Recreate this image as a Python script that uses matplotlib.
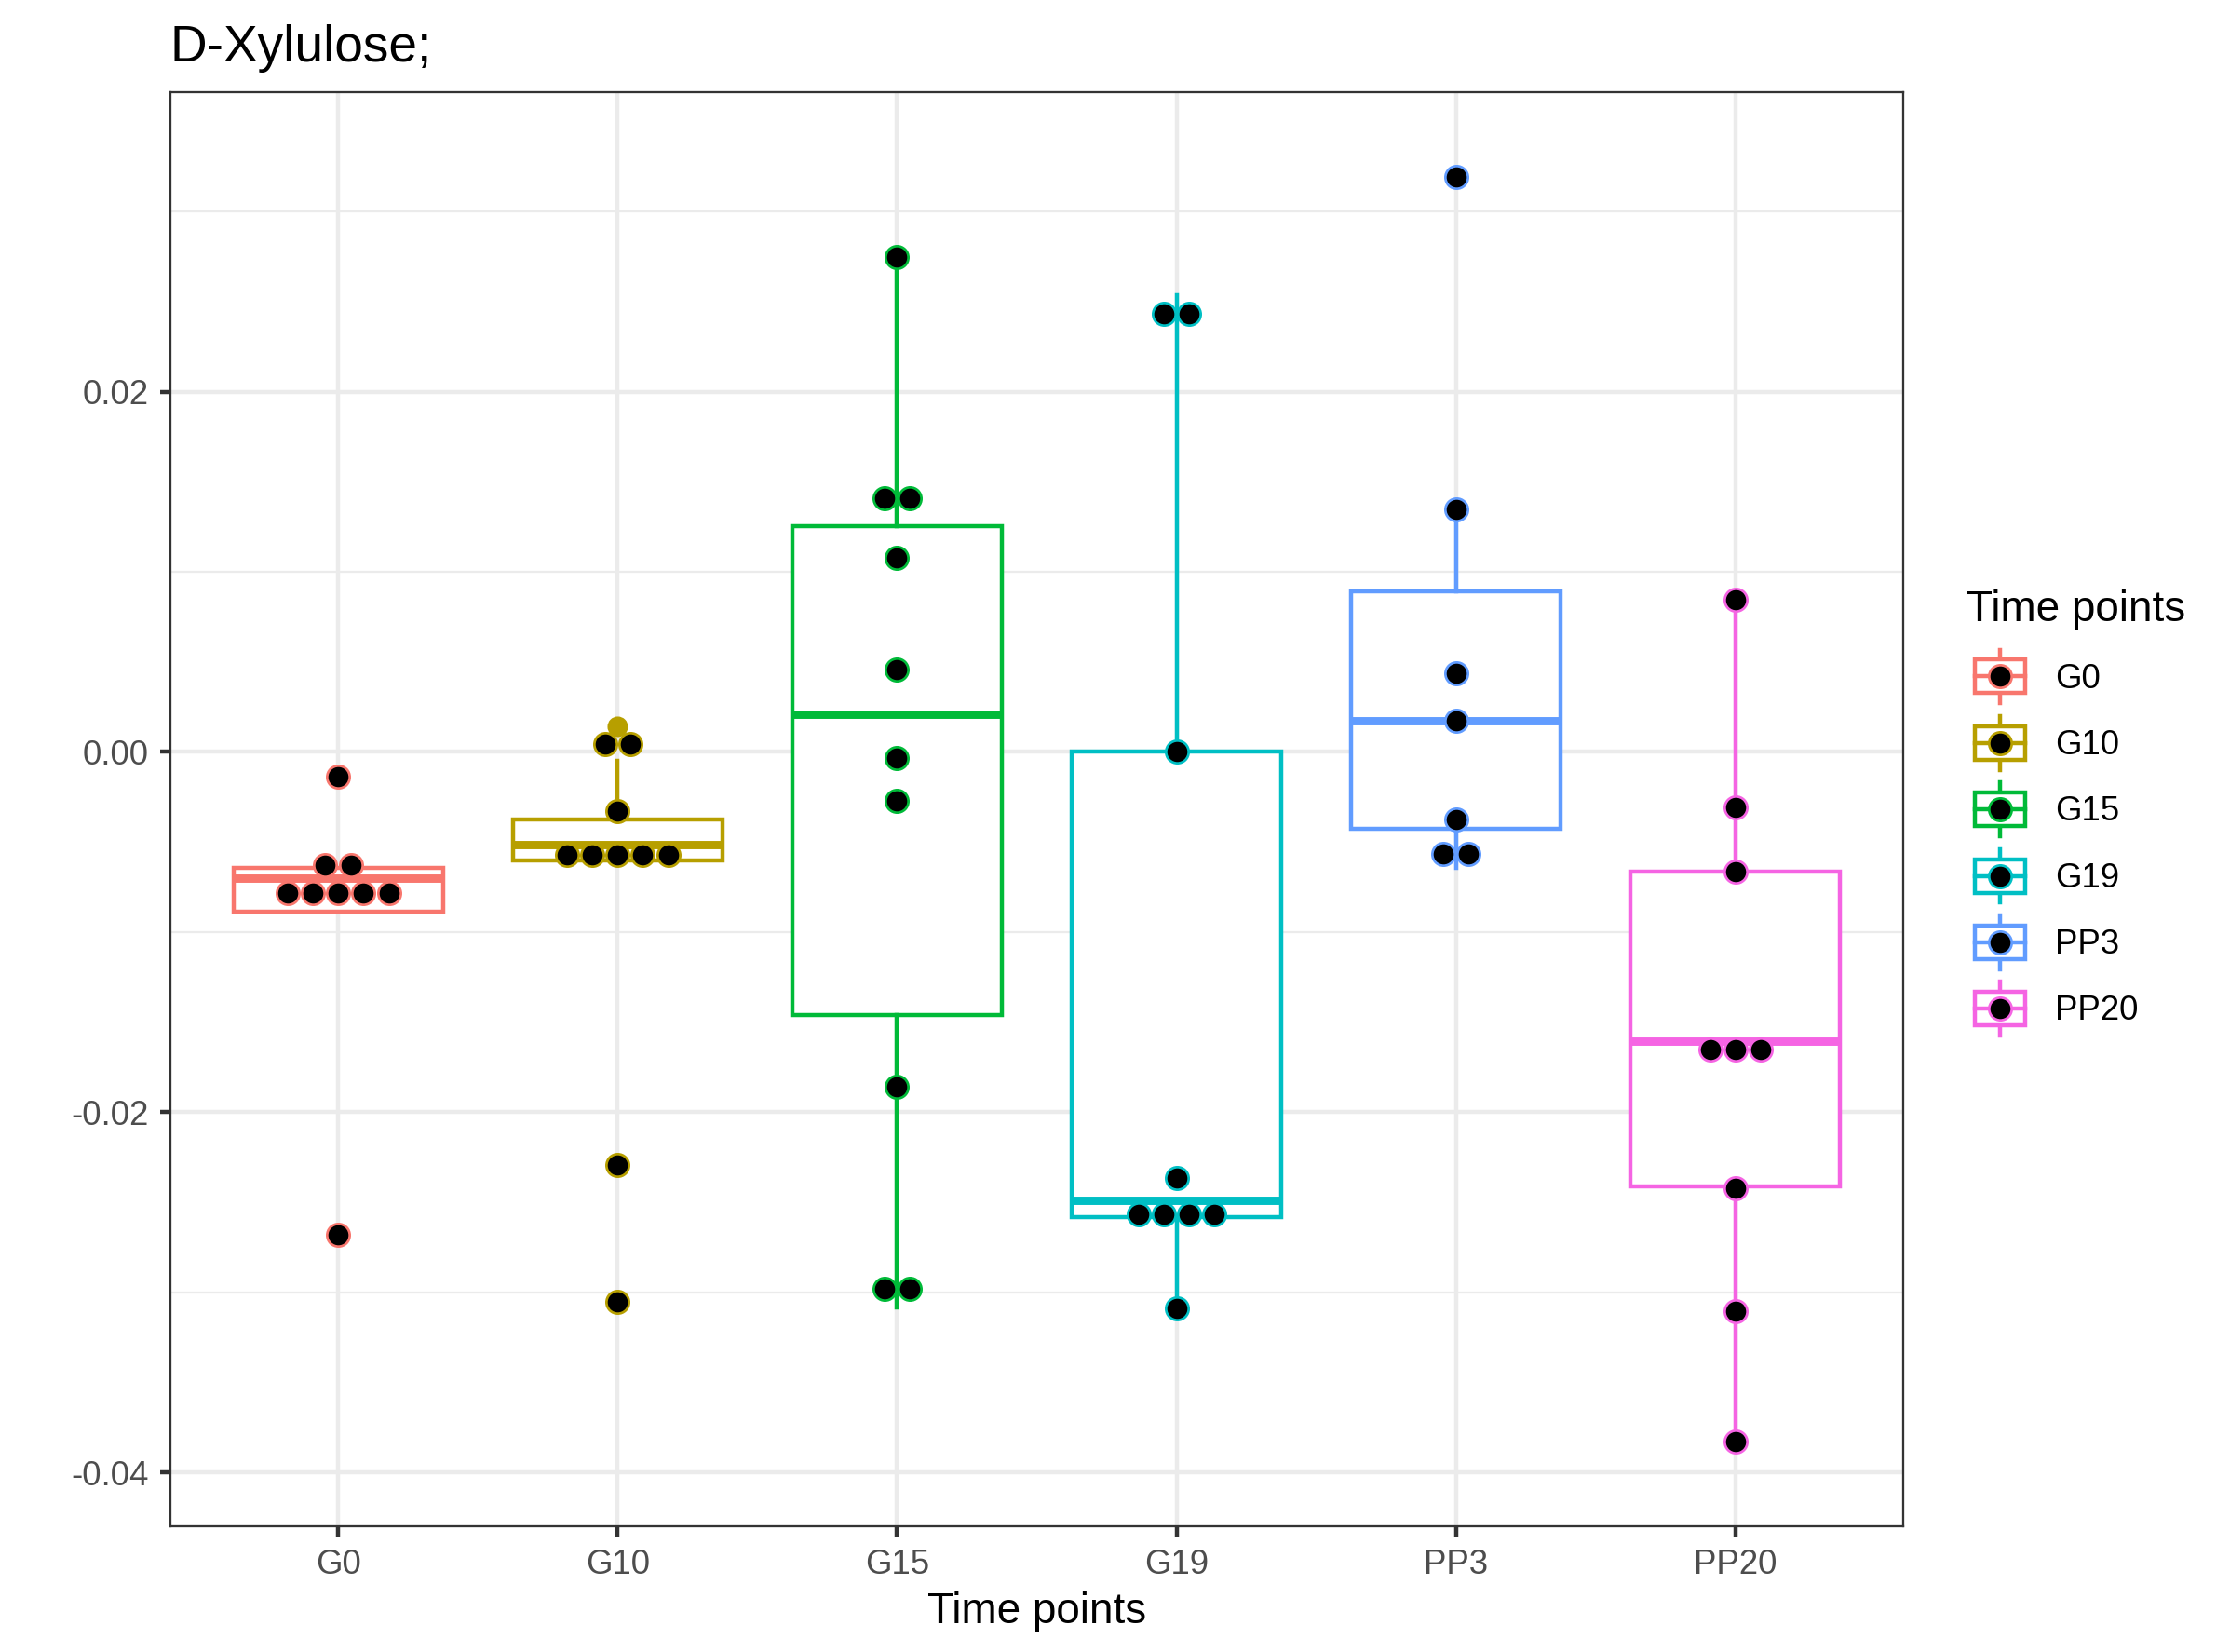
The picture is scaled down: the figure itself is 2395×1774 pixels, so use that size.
import numpy as np
import matplotlib
matplotlib.use("Agg")
import matplotlib.pyplot as plt
from matplotlib.legend_handler import HandlerBase
from matplotlib.lines import Line2D
from matplotlib.patches import Rectangle

plt.rcParams['font.family'] = ['Liberation Sans', 'DejaVu Sans']

# -----------------------------
# Data
# -----------------------------
groups = ["G0", "G10", "G15", "G19", "PP3", "PP20"]
colors = ["#F8766D", "#B79F00", "#00BA38", "#00BFC4", "#619CFF", "#F564E3"]

# dot positions (binned values as drawn by the dotplot)
dots_G0 = [-0.00137, -0.0063, -0.0063, -0.00785, -0.00785, -0.00785, -0.00785, -0.00785, -0.0268]
dots_G10 = [0.00046, 0.00046, -0.00327, -0.0057, -0.0057, -0.0057, -0.0057, -0.0057, -0.02293, -0.03051]
dots_G15 = [0.02747, 0.01411, 0.01411, 0.0108, 0.00456, -0.00034, -0.00271, -0.01858, -0.0298, -0.0298]
dots_G19 = [0.02434, 0.02434, 0.0, -0.02366, -0.02569, -0.02569, -0.02569, -0.02569, -0.0309]
dots_PP3 = [0.03194, 0.01345, 0.00436, 0.00171, -0.00375, -0.00565, -0.00565]
dots_PP20 = [0.00843, -0.0031, -0.00666, -0.01653, -0.01653, -0.01653, -0.0242, -0.03107, -0.03826]

# boxplot summaries
q1 = [-0.00887, -0.00604, -0.01461, -0.02581, -0.00427, -0.02411]
median = [-0.00702, -0.00513, 0.00211, -0.02491, 0.00171, -0.01606]
q3 = [-0.00642, -0.00375, 0.01253, 0.0, 0.0089, -0.00666]
whisker_lo = [-0.00887, -0.00604, -0.03084, -0.0309, -0.00642, -0.03826]
whisker_hi = [-0.00642, -0.00048, 0.0275, 0.02538, 0.01345, 0.00843]
outliers = [[-0.00137, -0.0268], [0.00142, -0.02293, -0.03051], [], [], [0.03194], []]

ytick_values = [-0.04, -0.02, 0.00, 0.02]
ytick_labels = ["-0.04", "-0.02", "0.00", "0.02"]
yminor_values = [-0.03, -0.01, 0.01, 0.03]

all_dots = [dots_G0, dots_G10, dots_G15, dots_G19, dots_PP3, dots_PP20]

# -----------------------------
# Style
# -----------------------------
LW = 1.07          # ggplot linewidth 0.5 at 300 dpi
DOT_MS = 5.83
DOT_EW = 0.65
DOT_W = 0.0907     # dot width in x data units
KEY = 17.28        # legend key size (pt)


class BoxKeyHandler(HandlerBase):
    def create_artists(self, legend, orig_handle, xdescent, ydescent,
                       width, height, fontsize, trans):
        c = orig_handle.get_color()
        cx = -xdescent + width / 2
        cy = -ydescent + height / 2
        whisk = Line2D([cx, cx], [cy - 0.4 * KEY, cy + 0.4 * KEY],
                       color=c, lw=LW, transform=trans)
        box = Rectangle((cx - 0.375 * KEY, cy - 0.25 * KEY), 0.75 * KEY, 0.5 * KEY,
                        facecolor="white", edgecolor=c, lw=LW, transform=trans)
        med = Line2D([cx - 0.375 * KEY, cx + 0.375 * KEY], [cy, cy],
                     color=c, lw=LW, transform=trans)
        dot = Line2D([cx], [cy], marker="o", ms=DOT_MS, mfc="black", mec=c,
                     mew=DOT_EW, ls="none", transform=trans)
        return [whisk, box, med, dot]


fig = plt.figure(figsize=(2395 / 300, 1774 / 300), dpi=300)
ax = fig.add_axes([0.0764, 0.0761, 0.8534 - 0.0764, 0.9442 - 0.0761])

positions = np.arange(1, len(groups) + 1)

# -----------------------------
# Boxplots
# -----------------------------
for i, g in enumerate(groups):
    stats = [{
        "med": median[i], "q1": q1[i], "q3": q3[i],
        "whislo": whisker_lo[i], "whishi": whisker_hi[i],
        "fliers": outliers[i],
    }]
    c = colors[i]
    ax.bxp(stats, positions=[positions[i]], widths=0.75, patch_artist=True,
           showcaps=False,
           boxprops=dict(facecolor="white", edgecolor=c, lw=LW),
           whiskerprops=dict(color=c, lw=LW),
           medianprops=dict(color=c, lw=2 * LW, solid_capstyle="butt"),
           flierprops=dict(marker="o", mfc=c, mec=c, ms=4.3),
           zorder=2)

# -----------------------------
# Dotplot (centered stacks)
# -----------------------------
for i, vals in enumerate(all_dots):
    vals = np.array(vals)
    levels, counts = np.unique(vals, return_counts=True)
    xs, ys = [], []
    for lv, n in zip(levels, counts):
        offs = (np.arange(n) - (n - 1) / 2) * DOT_W
        xs.extend(positions[i] + offs)
        ys.extend([lv] * n)
    ax.scatter(xs, ys, s=DOT_MS ** 2, c="black", edgecolors=colors[i],
               linewidths=DOT_EW, zorder=4)

# -----------------------------
# Axes
# -----------------------------
ax.set_xlim(0.4, 6.6)
ax.set_ylim(-0.04299, 0.03663)
ax.set_xticks(positions, labels=groups)
ax.set_yticks(ytick_values, labels=ytick_labels)
ax.set_yticks(yminor_values, minor=True)
ax.grid(which="major", color="#EBEBEB", lw=LW)
ax.grid(which="minor", axis="y", color="#EBEBEB", lw=LW / 2)
ax.set_axisbelow(True)
ax.tick_params(which="major", length=2.75, width=LW, color="#333333",
               labelsize=8.8, labelcolor="#4D4D4D")
ax.tick_params(axis="x", pad=3)
ax.tick_params(axis="y", pad=2.8)
ax.tick_params(which="minor", length=0)
for sp in ax.spines.values():
    sp.set_color("#333333")
    sp.set_linewidth(0.55)

ax.set_xlabel("Time points", fontsize=11, labelpad=2.6)
ax.set_title("D-Xylulose;", loc="left", fontsize=13.2, pad=8.0)

handles = [Line2D([], [], color=c) for c in colors]
ax.legend(handles, groups, handler_map={Line2D: BoxKeyHandler()},
          title="Time points", loc="center left",
          bbox_to_anchor=(2112 / 2395, 0.5101), bbox_transform=fig.transFigure,
          frameon=False, fontsize=8.8, title_fontsize=11,
          handlelength=KEY / 8.8, handleheight=(KEY - 4.4) / 8.8,
          labelspacing=0.75, handletextpad=0.62, borderpad=0, borderaxespad=0,
          alignment="left")

fig.savefig("out.png", dpi=300)
